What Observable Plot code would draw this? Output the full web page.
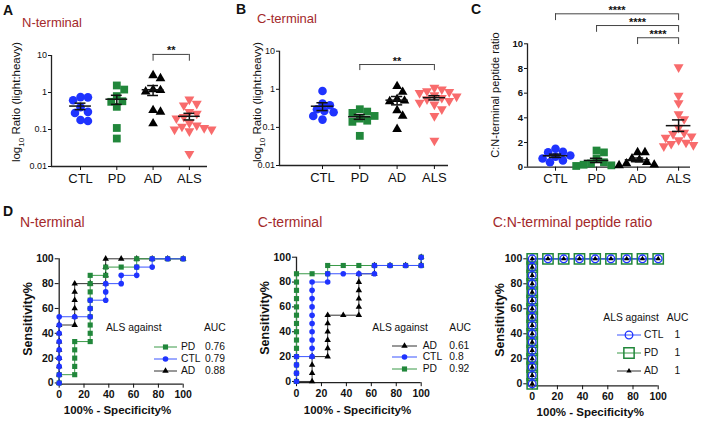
<!DOCTYPE html>
<html><head><meta charset="utf-8">
<script src="https://cdn.jsdelivr.net/npm/d3@7"></script>
<script src="https://cdn.jsdelivr.net/npm/@observablehq/plot@0.6"></script>
<style>
body{margin:0;background:#fff;}
#fig{position:relative;width:709px;height:423px;overflow:hidden;background:#fff;font-family:"Liberation Sans",Arial,Helvetica,sans-serif;}
.pl{position:absolute;}
.pl svg{overflow:visible;}
.t{position:absolute;white-space:nowrap;line-height:1;}
sub{font-size:70%;line-height:0;}
</style></head><body><div id="fig"></div>
<script>
// ---------------- data ----------------
const groups = ["CTL", "PD", "AD", "ALS"];
const nTermCTL = [0.75, 0.74, 0.62, 0.40, 0.30, 0.28, 0.18, 0.17];
const nTermPD  = [1.55, 1.2, 0.8, 0.58, 0.56, 0.41, 0.11, 0.057];
const nTermAD  = [2.9, 2.4, 1.2, 1.15, 1.05, 0.33, 0.30, 0.145];
const nTermALS = [0.65, 0.5, 0.45, 0.3, 0.27, 0.22, 0.2, 0.15, 0.13, 0.12, 0.11, 0.1, 0.1, 0.09, 0.022];
const cTermCTL = [0.9, 0.42, 0.38, 0.3, 0.27, 0.25, 0.2, 0.16];
const cTermPD  = [0.3, 0.26, 0.24, 0.2, 0.17, 0.15, 0.14, 0.06];
const cTermAD  = [1.2, 0.85, 0.55, 0.5, 0.48, 0.28, 0.2, 0.09];
const cTermALS = [1.1, 1.0, 0.9, 0.85, 0.8, 0.7, 0.65, 0.6, 0.55, 0.5, 0.45, 0.4, 0.3, 0.2, 0.045];
const ratioCTL = [1.5, 1.25, 1.2, 0.95, 0.85, 0.7, 0.55, 0.4];
const ratioPD  = [1.35, 1.2, 0.7, 0.4, 0.3, 0.2, 0.15, 0.1];
const ratioAD  = [1.2, 1.2, 0.7, 0.6, 0.4, 0.3, 0.2, 0.15];
const ratioALS = [8.1, 5.8, 5.2, 4.3, 3.9, 3.2, 2.8, 2.7, 2.5, 2.4, 2.2, 2.0, 1.9, 1.8, 1.7];
const logTicks = [0.01, 0.1, 1, 10];
const ratioTicks = [0, 2, 4, 6, 8, 10];
const rocTicks = [0, 20, 40, 60, 80, 100];
const compsN = [{a: "AD", b: "ALS", label: "**"}];
const compsC = [{a: "PD", b: "ALS", label: "**"}];
const compsR = [{a: "CTL", b: "ALS", label: "****"}, {a: "PD", b: "ALS", label: "****"}, {a: "AD", b: "ALS", label: "****"}];

// ROC curves (100% - specificity, sensitivity)
const rocN_PD_fpr  = [0,0,12.5,12.5,12.5,12.5,12.5,25,25,25,25,25,25,25,25,25,37.5,37.5,50,62.5,62.5,75,87.5,100];
const rocN_PD_tpr  = [0,6.67,6.67,13.33,20,26.67,33.33,33.33,40,46.67,53.33,60,66.67,73.33,80,86.67,86.67,93.33,93.33,93.33,100,100,100,100];
const rocN_CTL_fpr = [0,0,0,0,0,0,0,0,0,12.5,25,25,25,37.5,37.5,37.5,50,50,62.5,62.5,75,75,87.5,100];
const rocN_CTL_tpr = [0,6.67,13.33,20,26.67,33.33,40,46.67,53.33,53.33,53.33,60,66.67,66.67,73.33,80,80,86.67,86.67,93.33,93.33,100,100,100];
const rocN_AD_fpr  = [0,0,0,0,0,0,0,0,12.5,12.5,12.5,12.5,12.5,12.5,25,37.5,37.5,37.5,37.5,50,62.5,75,87.5,100];
const rocN_AD_tpr  = [0,6.67,13.33,20,26.67,33.33,40,46.67,46.67,53.33,60,66.67,73.33,80,80,80,86.67,93.33,100,100,100,100,100,100];
const rocC_PD_fpr  = [0,0,0,0,0,0,0,0,0,0,0,0,0,0,12.5,25,25,37.5,50,62.5,75,87.5,100,100];
const rocC_PD_tpr  = [0,6.67,13.33,20,26.67,33.33,40,46.67,53.33,60,66.67,73.33,80,86.67,86.67,86.67,93.33,93.33,93.33,93.33,93.33,93.33,93.33,100];
const rocC_CTL_fpr = [0,0,0,0,12.5,12.5,12.5,12.5,12.5,12.5,12.5,12.5,12.5,12.5,25,25,37.5,50,62.5,62.5,75,87.5,100,100];
const rocC_CTL_tpr = [0,6.67,13.33,20,20,26.67,33.33,40,46.67,53.33,60,66.67,73.33,80,80,86.67,86.67,86.67,86.67,93.33,93.33,93.33,93.33,100];
const rocC_AD_fpr  = [0,12.5,12.5,12.5,12.5,25,25,25,25,25,25,37.5,50,50,50,50,50,50,62.5,62.5,75,87.5,100,100];
const rocC_AD_tpr  = [0,0,6.67,13.33,20,20,26.67,33.33,40,46.67,53.33,53.33,53.33,60,66.67,73.33,80,86.67,86.67,93.33,93.33,93.33,93.33,100];
const rocR_fpr = [0,0,0,0,0,0,0,0,0,0,0,0,0,0,0,0,12.5,25,37.5,50,62.5,75,87.5,100];
const rocR_tpr = [0,6.67,13.33,20,26.67,33.33,40,46.67,53.33,60,66.67,73.33,80,86.67,93.33,100,100,100,100,100,100,100,100,100];
const aucN = {PD: "0.76", CTL: "0.79", AD: "0.88"};
const aucC = {AD: "0.61", CTL: "0.8", PD: "0.92"};
const aucR = {CTL: "1", PD: "1", AD: "1"};

// ---------------- styles ----------------
const FONT = '"Liberation Sans", Arial, Helvetica, sans-serif';
const BLUE = "#1f33ff", GREEN = "#21873b", RED = "#f86b6c", TITLE = "#a3292b", AX = "#222";
const BLUE_L = "#3b55ff", GREEN_L = "#3a9a48", BLACK_L = "#333";
const triDown = {draw(ctx, size) {
  const s3 = Math.sqrt(3), y = Math.sqrt(size / (s3 * 3));
  ctx.moveTo(0, 2 * y); ctx.lineTo(-s3 * y, -y); ctx.lineTo(s3 * y, -y); ctx.closePath();
}};
const groupStyle = [
  {symbol: "circle", fill: BLUE, r: 4.3},
  {symbol: "square", fill: GREEN, r: 4.4},
  {symbol: "triangle", fill: "#000", r: 3.6},
  {symbol: triDown, fill: RED, r: 3.7}
];

const fig = document.getElementById("fig");
function host(left, top, w, h) {
  const d = document.createElement("div");
  d.className = "pl";
  Object.assign(d.style, {left: left + "px", top: top + "px", width: w + "px", height: h + "px"});
  fig.appendChild(d);
  return d;
}
function txt(html, x, yc, fs, o = {}) {
  const d = document.createElement("div");
  d.className = "t"; d.innerHTML = html;
  Object.assign(d.style, {left: x + "px", top: (yc - fs * 0.5) + "px", fontSize: fs + "px",
    fontWeight: o.bold ? "bold" : "normal", color: o.color || "#111"});
  if (o.anchor === "middle") d.style.transform = "translateX(-50%)";
  fig.appendChild(d);
}
function vtxt(html, cx, cy, fs, o = {}) {
  const d = document.createElement("div");
  d.className = "t"; d.innerHTML = html;
  Object.assign(d.style, {left: cx + "px", top: cy + "px", fontSize: fs + "px",
    fontWeight: o.bold ? "bold" : "normal", color: "#111",
    transform: "translate(-50%,-50%) rotate(-90deg)"});
  fig.appendChild(d);
}

function swarm(ys, rad) {
  const idx = d3.range(ys.length).sort((i, j) => ys[i] - ys[j]);
  const placed = [], out = new Array(ys.length);
  for (const i of idx) {
    for (let k = 0; k < 200; k++) {
      const c = (k % 2 ? 1 : -1) * Math.ceil(k / 2) * rad * 0.5;
      if (placed.every(p => Math.hypot(p[0] - c, p[1] - ys[i]) >= 2 * rad)) {
        out[i] = c; placed.push([c, ys[i]]); break;
      }
    }
  }
  return out;
}

function scatter(o) {
  const el = host(o.left, o.top, o.w, o.h);
  const base = {width: o.w, height: o.h, marginLeft: o.ml, marginRight: o.mr, marginTop: o.mt, marginBottom: o.mb,
    x: {domain: o.xDomain}, y: {type: o.yType, domain: o.yDomain},
    style: {fontFamily: FONT, background: "transparent", overflow: "visible", color: "#111"}};
  const probe = Plot.plot({...base, marks: [Plot.ruleX([o.xDomain[0]]), Plot.ruleY([o.yDomain[0]])]});
  const sx = probe.scale("x"), sy = probe.scale("y");
  const ppu = sx.apply(1) - sx.apply(0);
  const pts = [];
  o.series.forEach((vals, g) => {
    const ys = vals.map(v => sy.apply(v));
    const off = swarm(ys, 3.7);
    vals.forEach((v, i) => pts.push({g, v, x: g + off[i] / ppu}));
  });
  const stats = o.series.map((vals, g) => {
    const m = d3.mean(vals), s = d3.deviation(vals) / Math.sqrt(vals.length);
    return {g, m, lo: m - s, hi: m + s};
  });
  const caps = stats.flatMap(d => [{g: d.g, y: d.lo}, {g: d.g, y: d.hi}]);
  const comps = o.comps.map((c, k) => ({a: groups.indexOf(c.a), b: groups.indexOf(c.b), label: c.label,
    y: o.bracketY[k], y2: o.bracketY2[k]}));
  const marks = [
    Plot.ruleY([o.yDomain[0]], {stroke: AX, strokeWidth: 1.3}),
    Plot.ruleX([o.xDomain[0]], {stroke: AX, strokeWidth: 1.3}),
    Plot.axisY({ticks: o.yTicks, tickFormat: d => String(d), tickSize: 3, tickPadding: 1.5,
      fontSize: o.yFont, fontWeight: o.yWeight, label: null}),
    Plot.axisX({ticks: [0, 1, 2, 3], tickFormat: i => groups[i], tickSize: 4, tickPadding: 3, fontSize: 13, label: null}),
    ...groups.map((_, g) => Plot.dot(pts.filter(p => p.g === g), {x: "x", y: "v", ...groupStyle[g], stroke: "none"})),
    Plot.ruleY(stats, {y: "m", x1: d => d.g - 0.3, x2: d => d.g + 0.3, stroke: "#111", strokeWidth: 1.5}),
    Plot.ruleX(stats, {x: "g", y1: "lo", y2: "hi", stroke: "#111", strokeWidth: 1.5}),
    Plot.ruleY(caps, {y: "y", x1: d => d.g - 0.15, x2: d => d.g + 0.15, stroke: "#111", strokeWidth: 1.5}),
    Plot.ruleY(comps, {y: "y", x1: "a", x2: "b", stroke: "#444", strokeWidth: 1}),
    Plot.ruleX(comps, {x: "a", y1: "y", y2: "y2", stroke: "#444", strokeWidth: 1}),
    Plot.ruleX(comps, {x: "b", y1: "y", y2: "y2", stroke: "#444", strokeWidth: 1}),
    Plot.text(comps, {x: d => (d.a + d.b) / 2, y: "y", text: "label", dy: -3.5, fontSize: 11, fontWeight: "bold", fill: "#111"})
  ];
  el.appendChild(Plot.plot({...base, marks}));
}

function roc(o) {
  const el = host(o.left, o.top, o.w, o.h);
  const marks = [
    Plot.ruleY([o.yDomain[0]], {stroke: AX, strokeWidth: 1.3}),
    Plot.ruleX([o.xDomain[0]], {stroke: AX, strokeWidth: 1.3}),
    Plot.axisX({ticks: rocTicks, tickSize: 4, tickPadding: 2.5, fontSize: 10.5, fontWeight: "bold", label: null}),
    Plot.axisY({ticks: rocTicks, tickSize: 4, tickPadding: 1.5, fontSize: 10.5, fontWeight: "bold", label: null})
  ];
  const rowsOf = s => s.fpr.map((x, i) => ({x, y: s.tpr[i]}));
  for (const name of o.lineOrder) {
    const s = o.series.find(d => d.name === name);
    marks.push(Plot.line(rowsOf(s), {x: "x", y: "y", stroke: s.line, strokeWidth: s.lw || 1}));
  }
  for (const s of o.series) {
    marks.push(Plot.dot(rowsOf(s), {x: "x", y: "y", symbol: s.symbol, r: s.r, fill: s.fill, stroke: s.stroke || "none", strokeWidth: s.sw || 1}));
  }
  el.appendChild(Plot.plot({width: o.w, height: o.h, marginLeft: o.ml, marginRight: o.mr, marginTop: o.mt, marginBottom: o.mb,
    x: {domain: o.xDomain}, y: {domain: o.yDomain},
    style: {fontFamily: FONT, background: "transparent", overflow: "visible", color: "#111"}, marks}));
  // legend
  const L = o.legend;
  const fs = 10.3;
  txt("ALS against", L.hx, L.hy, fs);
  txt("AUC", L.aucX, L.hy, fs);
  o.legendOrder.forEach((name, k) => {
    const s = o.series.find(d => d.name === name);
    const y = L.rows[k];
    const w = L.x2 - L.x1;
    const svg = d3.create("svg").attr("width", w + 16).attr("height", 16)
      .style("position", "absolute").style("left", (L.x1 - 8) + "px").style("top", (y - 8) + "px").style("overflow", "visible");
    svg.append("line").attr("x1", 8).attr("x2", 8 + w).attr("y1", 8).attr("y2", 8).attr("stroke", s.line).attr("stroke-width", 1);
    const type = s.symbol === "circle" ? d3.symbolCircle : s.symbol === "square" ? d3.symbolSquare : d3.symbolTriangle;
    svg.append("path").attr("d", d3.symbol(type, Math.PI * s.r * s.r)())
      .attr("transform", `translate(${8 + w / 2},8)`)
      .attr("fill", s.fill).attr("stroke", s.stroke || "none").attr("stroke-width", s.sw || 1);
    fig.appendChild(svg.node());
    txt(name, L.lx, y, fs);
    txt(o.auc[name], L.ax, y, fs);
  });
}

// ---------------- top row ----------------
scatter({left: 0, top: 0, w: 230, h: 200, ml: 51, mr: 23, mt: 55, mb: 34,
  xDomain: [-0.8, 3.5], yType: "log", yDomain: [0.01, 10], yTicks: logTicks, yFont: 9, yWeight: "normal",
  series: [nTermCTL, nTermPD, nTermAD, nTermALS], comps: compsN, bracketY: [10.7], bracketY2: [7.0]});
scatter({left: 230, top: 0, w: 230, h: 200, ml: 49, mr: 12, mt: 50.7, mb: 35,
  xDomain: [-1.153, 3.378], yType: "log", yDomain: [0.01, 10], yTicks: logTicks, yFont: 9, yWeight: "normal",
  series: [cTermCTL, cTermPD, cTermAD, cTermALS], comps: compsC, bracketY: [4.47], bracketY2: [3.1]});
scatter({left: 460, top: 0, w: 249, h: 200, ml: 67, mr: 19, mt: 43.3, mb: 33.3,
  xDomain: [-0.683, 3.29], yType: "linear", yDomain: [0, 10], yTicks: ratioTicks, yFont: 9.5, yWeight: "bold",
  series: [ratioCTL, ratioPD, ratioAD, ratioALS], comps: compsR, bracketY: [12.43, 11.48, 10.49], bracketY2: [11.88, 10.93, 9.94]});

// ---------------- bottom row ----------------
roc({left: 0, top: 200, w: 236, h: 223, ml: 58.7, mr: 53.3, mt: 58.3, mb: 39.3, xDomain: [0, 100], yDomain: [-1, 100],
  series: [
    {name: "AD", fpr: rocN_AD_fpr, tpr: rocN_AD_tpr, line: BLACK_L, symbol: "triangle", r: 2.4, fill: "#000"},
    {name: "PD", fpr: rocN_PD_fpr, tpr: rocN_PD_tpr, line: GREEN_L, symbol: "square", r: 2.9, fill: GREEN},
    {name: "CTL", fpr: rocN_CTL_fpr, tpr: rocN_CTL_tpr, line: BLUE_L, symbol: "circle", r: 2.8, fill: BLUE}],
  lineOrder: ["AD", "PD", "CTL"], legendOrder: ["PD", "CTL", "AD"], auc: aucN,
  legend: {hx: 106, hy: 327.7, aucX: 204, x1: 154, x2: 177, lx: 181, ax: 205, rows: [346.7, 359.3, 370.7]}});
roc({left: 235, top: 200, w: 235, h: 223, ml: 61, mr: 49.3, mt: 56.7, mb: 40.8, xDomain: [0, 100], yDomain: [-1, 100],
  series: [
    {name: "AD", fpr: rocC_AD_fpr, tpr: rocC_AD_tpr, line: BLACK_L, symbol: "triangle", r: 2.4, fill: "#000"},
    {name: "PD", fpr: rocC_PD_fpr, tpr: rocC_PD_tpr, line: GREEN_L, symbol: "square", r: 2.9, fill: GREEN},
    {name: "CTL", fpr: rocC_CTL_fpr, tpr: rocC_CTL_tpr, line: BLUE_L, symbol: "circle", r: 2.8, fill: BLUE}],
  lineOrder: ["AD", "PD", "CTL"], legendOrder: ["AD", "CTL", "PD"], auc: aucC,
  legend: {hx: 372.3, hy: 327.7, aucX: 449.3, x1: 392, x2: 417, lx: 422.7, ax: 449.3, rows: [345.7, 357.3, 369]}});
roc({left: 470, top: 200, w: 239, h: 223, ml: 57.3, mr: 51.3, mt: 58.3, mb: 37.7, xDomain: [-3.5, 100], yDomain: [-1.6, 100],
  series: [
    {name: "PD", fpr: rocR_fpr, tpr: rocR_tpr, line: GREEN_L, symbol: "square", r: 5.8, fill: "none", stroke: GREEN, sw: 1.5},
    {name: "CTL", fpr: rocR_fpr, tpr: rocR_tpr, line: BLUE_L, symbol: "circle", r: 3.8, fill: "none", stroke: BLUE, sw: 1.3, lw: 1.3},
    {name: "AD", fpr: rocR_fpr, tpr: rocR_tpr, line: BLACK_L, symbol: "triangle", r: 2, fill: "#000"}],
  lineOrder: ["AD", "PD", "CTL"], legendOrder: ["CTL", "PD", "AD"], auc: aucR,
  legend: {hx: 603.3, hy: 318.3, aucX: 666.7, x1: 617, x2: 641, lx: 644, ax: 674.5, rows: [335, 353.3, 370.7]}});

// ---------------- texts ----------------
txt("A", 3, 10, 14, {bold: true});
txt("N-terminal", 22, 22, 13, {color: TITLE});
txt("B", 236, 9, 14, {bold: true});
txt("C-terminal", 257, 18.5, 13, {color: TITLE});
txt("C", 471, 9, 14, {bold: true});
txt("D", 3, 211, 14, {bold: true});
txt("N-terminal", 20, 221.7, 14, {color: TITLE});
txt("C-terminal", 257.7, 221.7, 14, {color: TITLE});
txt("C:N-terminal peptide ratio", 492.7, 221.7, 14, {color: TITLE});
vtxt("log<sub>10</sub> Ratio (light:heavy)", 17, 102, 11.5);
vtxt("log<sub>10</sub> Ratio (light:heavy)", 258, 102, 11.5);
vtxt("C:N-terminal peptide ratio", 495, 95, 11);
vtxt("Sensitivity%", 28, 319, 12.5, {bold: true});
vtxt("Sensitivity%", 265, 318, 12.5, {bold: true});
vtxt("Sensitivity%", 500, 320, 12.5, {bold: true});
txt("100% - Specificity%", 117.5, 410.7, 11.5, {bold: true, anchor: "middle"});
txt("100% - Specificity%", 357.5, 410.7, 11.5, {bold: true, anchor: "middle"});
txt("100% - Specificity%", 590.3, 412.3, 11.5, {bold: true, anchor: "middle"});
</script></body></html>
